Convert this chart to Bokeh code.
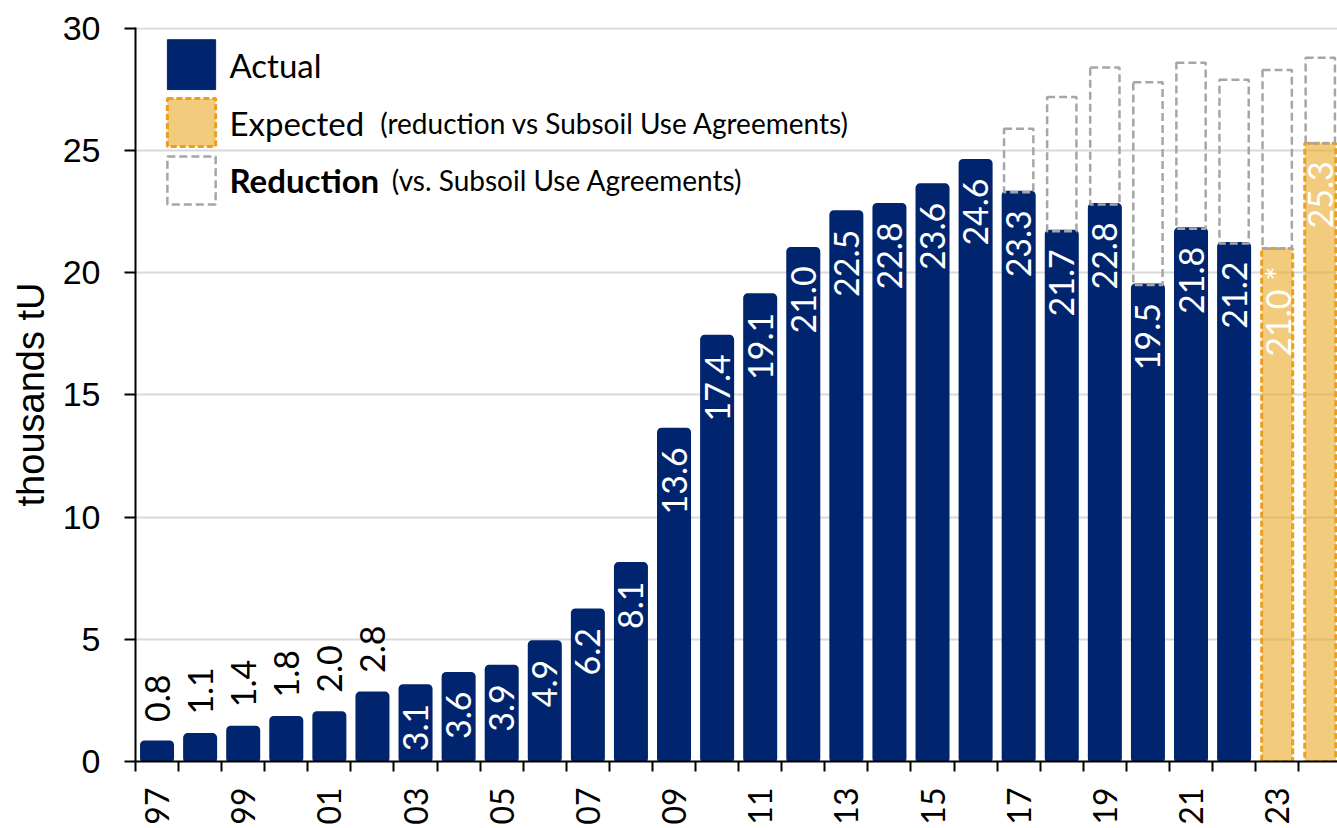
import math

from bokeh.plotting import figure
from bokeh.models import ColumnDataSource, FixedTicker, CustomJSTickFormatter, Range1d
from bokeh.core.properties import value
from bokeh.embed import file_html
from bokeh.resources import INLINE

# ---- data (thousands tU) ----
years = ["97", "98", "99", "00", "01", "02", "03", "04", "05", "06", "07", "08", "09", "10",
         "11", "12", "13", "14", "15", "16", "17", "18", "19", "20", "21", "22", "23", "24"]

actual_years = years[:26]
actual = [0.8, 1.1, 1.4, 1.8, 2.0, 2.8, 3.1, 3.6, 3.9, 4.9, 6.2, 8.1, 13.6, 17.4,
          19.1, 21.0, 22.5, 22.8, 23.6, 24.6, 23.3, 21.7, 22.8, 19.5, 21.8, 21.2]

expected_years = ["23", "24"]
expected = [21.0, 25.3]
expected_labels = ["21.0 *", "25.3"]

agreement_years = ["17", "18", "19", "20", "21", "22", "23", "24"]
agreement = [25.9, 27.2, 28.4, 27.8, 28.6, 27.9, 28.3, 28.8]

y_ticks = [0, 5, 10, 15, 20, 25, 30]

# ---- style ----
NAVY = "#00256E"
GOLD_FILL = "#E9A825"
GOLD_LINE = "#E8A020"
GREY_DASH = "#A6A6A6"
GRID = "#D9D9D9"
LABEL_FONT = "Lato"
AXIS_FONT = "Liberation Sans"

BAR_W = 0.72
INSIDE_MIN = 3.0   # values at or above this get their label inside the bar

pos = {y: i + 0.5 for i, y in enumerate(years)}

p = figure(width=1337, height=828, output_backend="svg", toolbar_location=None,
           x_range=Range1d(0, 27.9), y_range=Range1d(0, 30.04),
           min_border_left=135, min_border_right=0, min_border_top=27, min_border_bottom=67)
p.outline_line_color = None
p.background_fill_color = "white"
p.border_fill_color = "white"

# ---- axes ----
p.xgrid.visible = False
p.ygrid.ticker = FixedTicker(ticks=y_ticks)
p.ygrid.grid_line_color = GRID
p.ygrid.grid_line_width = 2

p.yaxis.ticker = FixedTicker(ticks=y_ticks)
p.yaxis.axis_label = "thousands tU"
p.yaxis.axis_label_text_font = AXIS_FONT
p.yaxis.axis_label_text_font_size = "38px"
p.yaxis.axis_label_text_font_style = "normal"
p.yaxis.axis_label_text_color = "black"
p.yaxis.axis_label_standoff = 8
p.yaxis.major_label_text_font = AXIS_FONT
p.yaxis.major_label_text_font_size = "34px"
p.yaxis.major_label_text_color = "black"
p.yaxis.major_label_standoff = 24
p.yaxis.major_tick_out = 11
p.yaxis.major_tick_in = 0
p.yaxis.minor_tick_out = 0
p.yaxis.minor_tick_in = 0
p.yaxis.axis_line_width = 2
p.yaxis.axis_line_color = "black"
p.yaxis.major_tick_line_width = 2
p.yaxis.major_tick_line_color = "black"

label_ticks = [pos[y] for i, y in enumerate(years) if i % 2 == 0]
p.xaxis.ticker = FixedTicker(ticks=label_ticks, minor_ticks=list(range(len(years) + 1)))
p.xaxis.formatter = CustomJSTickFormatter(args=dict(labels=years),
                                          code="return labels[Math.floor(tick)];")
p.xaxis.major_label_orientation = math.pi / 2
p.xaxis.major_label_text_font = LABEL_FONT
p.xaxis.major_label_text_font_size = "32px"
p.xaxis.major_label_text_color = "black"
p.xaxis.major_label_standoff = 16
p.xaxis.major_tick_out = 0
p.xaxis.major_tick_in = 0
p.xaxis.minor_tick_out = 10
p.xaxis.minor_tick_in = 0
p.xaxis.minor_tick_line_width = 2
p.xaxis.minor_tick_line_color = "black"
p.xaxis.axis_line_width = 2
p.xaxis.axis_line_color = "black"

# ---- bars ----
act_src = ColumnDataSource(dict(x=[pos[y] for y in actual_years], top=actual,
                                label=[f"{v:.1f}" for v in actual]))
p.vbar(x="x", top="top", bottom=0, width=BAR_W, source=act_src,
       fill_color=NAVY, line_color=NAVY, line_width=3, border_radius=3)

exp_src = ColumnDataSource(dict(x=[pos[y] for y in expected_years], top=expected,
                                label=expected_labels))
p.vbar(x="x", top="top", bottom=0, width=BAR_W, source=exp_src,
       fill_color=GOLD_FILL, fill_alpha=0.6, line_color=GOLD_LINE, line_width=3,
       line_dash="6 3")

# reduction boxes sit between the delivered/expected level and the agreement level
base_lookup = dict(zip(actual_years, actual))
base_lookup.update(dict(zip(expected_years, expected)))
red_src = ColumnDataSource(dict(x=[pos[y] for y in agreement_years],
                                bottom=[base_lookup[y] for y in agreement_years],
                                top=agreement))
p.vbar(x="x", top="top", bottom="bottom", width=0.68, source=red_src,
       fill_color=None, line_color=GREY_DASH, line_width=2.5, line_dash="8 4")

# ---- value labels ----
def split(src_x, src_top, src_label):
    inside = dict(x=[], top=[], label=[])
    outside = dict(x=[], top=[], label=[])
    for x, t, l in zip(src_x, src_top, src_label):
        d = inside if t >= INSIDE_MIN else outside
        d["x"].append(x)
        d["top"].append(t)
        d["label"].append(l)
    return inside, outside

ins_a, out_a = split(act_src.data["x"], act_src.data["top"], act_src.data["label"])
ins_e, _ = split(exp_src.data["x"], exp_src.data["top"], exp_src.data["label"])
inside = {k: ins_a[k] + ins_e[k] for k in ins_a}

p.text(x="x", y="top", text="label", source=ColumnDataSource(inside),
       angle=math.pi / 2, text_align="right", text_baseline="middle", y_offset=18,
       text_color="white", text_font=value(LABEL_FONT), text_font_size="34px")
p.text(x="x", y="top", text="label", source=ColumnDataSource(out_a),
       angle=math.pi / 2, text_align="left", text_baseline="middle", y_offset=-20,
       text_color="black", text_font=value(LABEL_FONT), text_font_size="34px")

# ---- legend (drawn in plot units, top-left corner) ----
leg_left, leg_right = 0.74, 1.86
leg_rows = [28.52, 26.15, 23.78]
leg_half = 0.98
text_x = 2.18

p.quad(left=[leg_left], right=[leg_right], bottom=[leg_rows[0] - leg_half - 0.04],
       top=[leg_rows[0] + leg_half + 0.04], fill_color=NAVY, line_color=NAVY, line_width=1)
p.quad(left=[leg_left], right=[leg_right], bottom=[leg_rows[1] - leg_half],
       top=[leg_rows[1] + leg_half], fill_color=GOLD_FILL, fill_alpha=0.6,
       line_color=GOLD_LINE, line_width=3, line_dash="6 3")
p.quad(left=[leg_left], right=[leg_right], bottom=[leg_rows[2] - leg_half],
       top=[leg_rows[2] + leg_half], fill_color=None,
       line_color=GREY_DASH, line_width=2.5, line_dash="8 4")

legend_main = ["Actual", "Expected", "Reduction"]
legend_style = ["normal", "normal", "bold"]
for row, txt, style in zip(leg_rows, legend_main, legend_style):
    p.text(x=[text_x], y=[row], text=[txt], text_align="left", text_baseline="middle",
           text_color="black", text_font=value(LABEL_FONT), text_font_size="33px",
           text_font_style=style)

p.text(x=[5.68], y=[leg_rows[1]], text=["(reduction vs Subsoil Use Agreements)"],
       text_align="left", text_baseline="middle", text_color="black",
       text_font=value(LABEL_FONT), text_font_size="28px")
p.text(x=[5.95], y=[leg_rows[2]], text=["(vs. Subsoil Use Agreements)"],
       text_align="left", text_baseline="middle", text_color="black",
       text_font=value(LABEL_FONT), text_font_size="28px")

open("out.html", "w").write(file_html(p, INLINE))
